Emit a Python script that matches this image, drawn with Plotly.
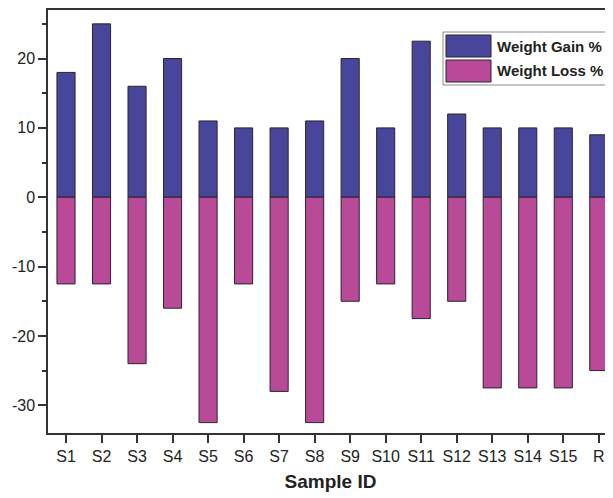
import plotly.graph_objects as go

categories = ["S1", "S2", "S3", "S4", "S5", "S6", "S7", "S8", "S9", "S10",
              "S11", "S12", "S13", "S14", "S15", "R"]
weight_gain = [18, 25, 16, 20, 11, 10, 10, 11, 20, 10, 22.5, 12, 10, 10, 10, 9]
weight_loss = [-12.5, -12.5, -24, -16, -32.5, -12.5, -28, -32.5, -15, -12.5,
               -17.5, -15, -27.5, -27.5, -27.5, -25]
y_ticks = [-30, -20, -10, 0, 10, 20]
y_tick_labels = ["-30", "-20", "-10", "0", "10", "20"]

GAIN_COLOR = "#47469a"
LOSS_COLOR = "#b94a98"
EDGE = "#2b2233"
FONT = "Arial, Liberation Sans, sans-serif"

# The page body has an 8px margin, so the figure sits at (8, 8) in the window.
OFF = 8
W, H = 613 - OFF, 498 - OFF
# Plot area in window pixels: x 48..613, y 10..433
L, R, T, B = 48 - OFF, 0, 10 - OFF, 498 - 433
PW, PH = W - L - R, H - T - B


def px(x):
    return (x - OFF - L) / PW


def py(y):
    return (H - B - (y - OFF)) / PH


fig = go.Figure()
fig.add_trace(go.Bar(x=categories, y=weight_gain, name="Weight Gain %",
                     marker=dict(color=GAIN_COLOR, line=dict(color=EDGE, width=1)),
                     showlegend=False))
fig.add_trace(go.Bar(x=categories, y=weight_loss, name="Weight Loss %",
                     marker=dict(color=LOSS_COLOR, line=dict(color=EDGE, width=1)),
                     showlegend=False))

# Custom legend (large swatches as in the reference)
shapes = [
    dict(type="rect", xref="paper", yref="paper",
         x0=px(443), x1=px(625), y0=py(85), y1=py(32),
         line=dict(color="#8a8a8a", width=1), fillcolor="white", layer="above"),
    dict(type="rect", xref="paper", yref="paper",
         x0=px(446), x1=px(491), y0=py(57), y1=py(35),
         line=dict(color=EDGE, width=1), fillcolor=GAIN_COLOR, layer="above"),
    dict(type="rect", xref="paper", yref="paper",
         x0=px(446), x1=px(491), y0=py(82), y1=py(60),
         line=dict(color=EDGE, width=1), fillcolor=LOSS_COLOR, layer="above"),
]
annotations = [
    dict(text="<b>Weight Gain %</b>", xref="paper", yref="paper",
         x=px(495), y=py(46.5), xanchor="left", yanchor="middle", showarrow=False,
         font=dict(family=FONT, size=15, color="#222222")),
    dict(text="<b>Weight Loss %</b>", xref="paper", yref="paper",
         x=px(495), y=py(71), xanchor="left", yanchor="middle", showarrow=False,
         font=dict(family=FONT, size=15, color="#222222")),
]

fig.update_layout(
    width=W, height=H,
    margin=dict(l=L, r=R, t=T, b=B),
    barmode="relative",
    bargap=0.49,
    plot_bgcolor="white",
    paper_bgcolor="white",
    font=dict(family=FONT, size=16, color="#222222"),
    shapes=shapes,
    annotations=annotations,
    xaxis=dict(
        range=[-0.507, 15.4],
        showline=True, linecolor="#333333", linewidth=1.5, mirror=True,
        ticks="outside", ticklen=8, tickwidth=1.5, tickcolor="#333333",
        showgrid=False, zeroline=False,
        tickfont=dict(family=FONT, size=16, color="#222222"),
        title=dict(text="<b>Sample ID</b>", font=dict(family=FONT, size=19, color="#222222"),
                   standoff=11),
    ),
    yaxis=dict(
        range=[-34, 27],
        tickvals=y_ticks,
        ticktext=y_tick_labels,
        showline=True, linecolor="#333333", linewidth=1.5, mirror=False,
        ticks="outside", ticklen=8, tickwidth=1.5, tickcolor="#333333",
        minor=dict(dtick=5, tick0=0, ticks="outside", ticklen=4, tickwidth=1.5,
                   tickcolor="#333333", showgrid=False),
        showgrid=False, zeroline=False,
        tickfont=dict(family=FONT, size=16, color="#222222"),
    ),
)

fig.write_html("out.html")
